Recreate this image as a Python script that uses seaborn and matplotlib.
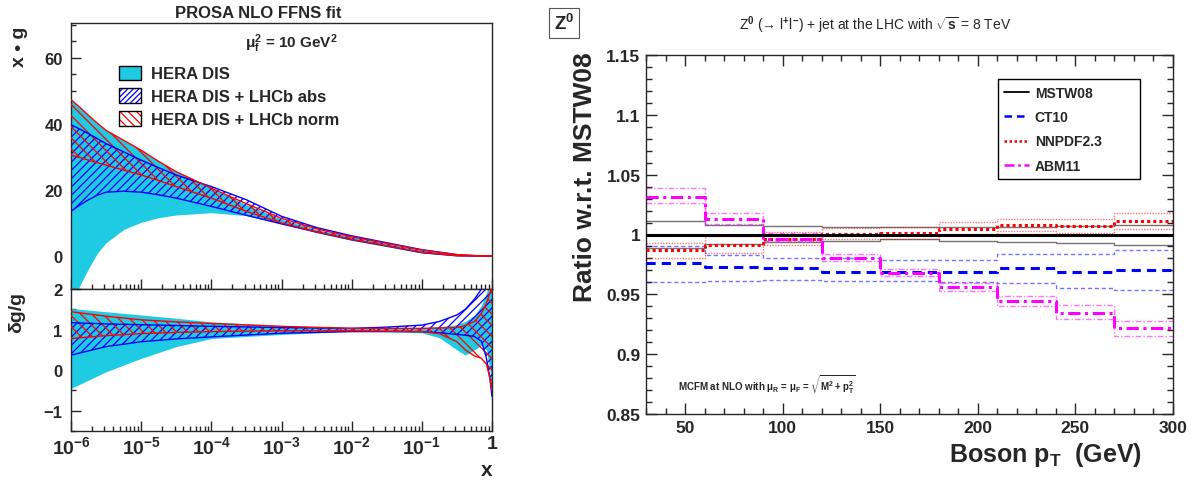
import numpy as np
import matplotlib
matplotlib.use('Agg')
import matplotlib.pyplot as plt
import seaborn as sns
from matplotlib.patches import Patch
from matplotlib.lines import Line2D
from matplotlib.legend_handler import HandlerTuple
from matplotlib.ticker import MultipleLocator, FixedLocator, FuncFormatter, NullFormatter

# ---- left: gluon density x*g and relative uncertainty, mu_f^2 = 10 GeV^2 ----
log_x = [-6, -5.875, -5.75, -5.625, -5.5, -5.25, -5, -4.75, -4.5, -4, -3.5, -3, -2.5, -2, -1.5, -1, -0.5, -0.25, 0]
hera_hi = [47.3, 45, 42.5, 40.2, 38, 35, 32, 28.6, 25.5, 20.5, 15.5, 11.2, 8.0, 5.9, 3.8, 1.8, 0.4, 0.1, 0]
hera_lo = [-16, -9, -3.8, 0.8, 4.0, 8.0, 10.2, 11.6, 12.4, 13.1, 12.2, 9.8, 7.1, 4.7, 2.8, 0.9, 0.05, 0, 0]
abs_hi = [39.7, 38.4, 37, 35.5, 34, 31.5, 29, 26.7, 24.5, 21, 17, 12, 8.6, 6.1, 4.0, 1.9, 0.4, 0.1, 0]
abs_lo = [13.5, 15.4, 17, 18.4, 19.3, 19.6, 19.3, 18.5, 17.5, 15.0, 12.3, 9.7, 7.2, 4.9, 3.0, 1.0, 0.05, 0, 0]
norm_hi = [47.3, 45, 42.5, 40.2, 38, 35, 32, 28.6, 25.5, 20.5, 15.8, 11.4, 8.2, 5.8, 3.8, 1.8, 0.4, 0.1, 0]
norm_lo = [30.5, 29.8, 29, 28.2, 27.5, 26, 24.5, 22.8, 21, 17.5, 13.5, 10, 7.3, 5.0, 3.1, 1.1, 0.1, 0, 0]

log_x_r = [-6, -5.5, -5, -4.5, -4, -3, -2, -1.5, -1, -0.75, -0.5, -0.38, -0.25, -0.15, -0.08, -0.03, 0]
hera_r_hi = [1.52, 1.44, 1.36, 1.28, 1.19, 1.10, 1.04, 1.03, 1.04, 1.07, 1.12, 1.2, 1.35, 1.6, 1.9, 2.2, 2.6]
hera_r_lo = [-0.45, -0.04, 0.29, 0.58, 0.78, 0.88, 0.96, 0.95, 0.92, 0.8, 0.5, 0.37, 0.5, 0.62, 0.5, 0.0, -0.6]
abs_r_hi = [1.17, 1.14, 1.12, 1.10, 1.08, 1.05, 1.03, 1.06, 1.11, 1.2, 1.36, 1.5, 1.75, 2.0, 2.2, 2.4, 2.5]
abs_r_lo = [0.37, 0.58, 0.70, 0.77, 0.82, 0.91, 0.95, 0.95, 0.95, 0.92, 0.88, 0.86, 0.83, 0.71, 0.3, -0.2, -0.65]
norm_r_hi = [1.44, 1.33, 1.24, 1.19, 1.15, 1.08, 1.03, 1.03, 1.03, 1.04, 1.05, 1.1, 1.2, 1.4, 1.65, 1.9, 2.1]
norm_r_lo = [0.78, 0.85, 0.90, 0.93, 0.95, 0.97, 0.97, 0.96, 0.95, 0.9, 0.7, 0.5, 0.35, 0.29, 0.15, -0.2, -0.5]

fit_labels = ['HERA DIS', 'HERA DIS + LHCb abs', 'HERA DIS + LHCb norm']
decade_ticks = [1e-6, 1e-5, 1e-4, 1e-3, 1e-2, 1e-1, 1]
decade_labels = [r'$10^{-6}$', r'$10^{-5}$', r'$10^{-4}$', r'$10^{-3}$', r'$10^{-2}$', r'$10^{-1}$', '1']

# ---- right: Z+jet ratio to MSTW08 in bins of boson pT ----
pt_edges = [30, 60, 90, 120, 150, 180, 210, 240, 270, 300]
mstw_c = [1.0, 1.0, 1.0, 1.0, 1.0, 1.0, 1.0, 1.0, 1.0]
mstw_up = [1.011, 1.008, 1.007, 1.0065, 1.0065, 1.006, 1.006, 1.007, 1.008]
mstw_dn = [0.989, 0.992, 0.9937, 0.9945, 0.996, 0.9945, 0.9937, 0.9925, 0.991]
ct10_c = [0.976, 0.973, 0.972, 0.969, 0.969, 0.969, 0.972, 0.969, 0.970]
ct10_up = [0.990, 0.9825, 0.9805, 0.980, 0.9786, 0.9786, 0.9833, 0.9833, 0.987]
ct10_dn = [0.960, 0.961, 0.962, 0.961, 0.961, 0.960, 0.9596, 0.955, 0.9535]
nnpdf_c = [0.9867, 0.9909, 0.9964, 1.0005, 1.0014, 1.0048, 1.0076, 1.007, 1.0112]
nnpdf_up = [0.9931, 0.9987, 1.0023, 1.0056, 1.0065, 1.0104, 1.0126, 1.0126, 1.018]
nnpdf_dn = [0.980, 0.9847, 0.9909, 0.996, 0.9964, 1.0, 1.003, 1.0015, 1.0048]
abm_c = [1.0315, 1.0126, 0.9964, 0.9805, 0.968, 0.9563, 0.9443, 0.9346, 0.922]
abm_up = [1.0385, 1.0176, 1.0015, 0.9833, 0.9708, 0.9596, 0.949, 0.9407, 0.9276]
abm_dn = [1.0265, 1.0084, 0.9945, 0.9778, 0.9652, 0.9527, 0.94, 0.9295, 0.915]
pdf_names = ['MSTW08', 'CT10', 'NNPDF2.3', 'ABM11']

sns.set_style("ticks")
plt.rcParams['font.family'] = ['Liberation Sans', 'DejaVu Sans']
plt.rcParams['font.weight'] = 'bold'
plt.rcParams['mathtext.fontset'] = 'custom'
plt.rcParams['mathtext.rm'] = 'Liberation Sans'
plt.rcParams['mathtext.it'] = 'Liberation Sans:italic'
plt.rcParams['mathtext.bf'] = 'Liberation Sans:bold'
plt.rcParams['mathtext.default'] = 'bf'
plt.rcParams['hatch.linewidth'] = 0.9
plt.rcParams['axes.linewidth'] = 1.0

CYAN = '#1ecbe2'
BLUE_HATCH = '////'
RED_HATCH = '\\\\\\'
W, H = 1195, 481
fig = plt.figure(figsize=(W / 100, H / 100), dpi=100)


def px_axes(x0, y0, x1, y1):
    return fig.add_axes([x0 / W, 1 - y1 / H, (x1 - x0) / W, (y1 - y0) / H])


ax1 = px_axes(71, 24, 492, 290)
ax2 = px_axes(71, 290, 492, 432)
ax3 = px_axes(646, 56, 1173, 415)


def draw_bands(ax, lx, hi_lo_list):
    x = 10 ** np.array(lx, dtype=float)
    (h0, l0), (h1, l1), (h2, l2) = hi_lo_list
    ax.fill_between(x, l0, h0, color=CYAN, lw=0, zorder=1)
    ax.fill_between(x, l1, h1, facecolor='none', edgecolor='blue', hatch=BLUE_HATCH, lw=0, zorder=2)
    ax.fill_between(x, l2, h2, facecolor='none', edgecolor='red', hatch=RED_HATCH, lw=0, zorder=3)
    for y in (h1, l1):
        sns.lineplot(x=x, y=y, ax=ax, color='blue', lw=1.0, zorder=4)
    for y in (h2, l2):
        sns.lineplot(x=x, y=y, ax=ax, color='red', lw=1.0, zorder=5)


draw_bands(ax1, log_x, [(hera_hi, hera_lo), (abs_hi, abs_lo), (norm_hi, norm_lo)])
draw_bands(ax2, log_x_r, [(hera_r_hi, hera_r_lo), (abs_r_hi, abs_r_lo), (norm_r_hi, norm_r_lo)])

minor_ticks = [m * 10.0 ** e for e in range(-6, 0) for m in range(2, 10)]
for ax in (ax1, ax2):
    ax.set_xscale('log')
    ax.set_xlim(1e-6, 1)
    ax.xaxis.set_major_locator(FixedLocator(decade_ticks))
    ax.xaxis.set_minor_locator(FixedLocator(minor_ticks))
    ax.xaxis.set_minor_formatter(NullFormatter())
    ax.tick_params(which='both', direction='in', top=False, right=False, labelsize=12)
    ax.tick_params(which='major', length=7, width=1)
    ax.tick_params(which='minor', length=3.5, width=1)
    ax.set_xlabel('')
    ax.set_ylabel('')

ax1.set_ylim(-10, 70.5)
ax1.yaxis.set_major_locator(FixedLocator([0, 20, 40, 60]))
ax1.yaxis.set_minor_locator(MultipleLocator(5))
ax1.xaxis.set_major_formatter(NullFormatter())
ax1.tick_params(axis='y', pad=6)

ax2.set_ylim(-1.5, 2)
ax2.yaxis.set_major_locator(FixedLocator([-1, 0, 1, 2]))
ax2.yaxis.set_minor_locator(MultipleLocator(0.5))
ax2.tick_params(axis='y', pad=6)
ax2.tick_params(axis='x', pad=3, labelsize=14)
ax2.set_xticklabels(decade_labels)

leg_handles = [
    Patch(facecolor=CYAN, edgecolor='black', lw=1),
    (Patch(facecolor='white', edgecolor='blue', hatch='//////', lw=0),
     Patch(facecolor='none', edgecolor='black', lw=1)),
    (Patch(facecolor='white', edgecolor='red', hatch='\\\\\\\\', lw=0),
     Patch(facecolor='none', edgecolor='black', lw=1)),
]
ax1.legend(leg_handles, fit_labels, loc='upper left', bbox_to_anchor=(0.098, 0.865), frameon=False,
           prop={'size': 12, 'weight': 'bold'}, handlelength=1.3, handleheight=0.95,
           handletextpad=0.6, labelspacing=0.42, borderaxespad=0,
           handler_map={tuple: HandlerTuple(ndivide=1, pad=0)})
ax1.text(0.523, 0.925, r'$\mu_f^2$ = 10 GeV$^2$', transform=ax1.transAxes, ha='center', va='center',
         fontsize=11, fontweight='bold')

fig.text(258 / W, 1 - 13 / H, 'PROSA NLO FFNS fit', ha='center', va='center', fontsize=12, fontweight='bold')
fig.text(19 / W, 1 - 27 / H, 'x • g', rotation=90, ha='center', va='top', fontsize=14, fontweight='bold')
fig.text(17 / W, 1 - 292 / H, 'δg/g', rotation=90, ha='center', va='top', fontsize=14, fontweight='bold')
fig.text(492 / W, 1 - 471 / H, 'x', ha='right', va='center', fontsize=15, fontweight='bold')


# ---- right panel ----
def step(ax, vals, color, ls, lw, alpha=1.0, z=3):
    sns.lineplot(x=pt_edges, y=list(vals) + [vals[-1]], ax=ax, color=color, linestyle=ls, lw=lw,
                 alpha=alpha, drawstyle='steps-post', estimator=None, zorder=z)


styles = {
    'MSTW08': ('black', '-'),
    'CT10': ('blue', (0, (3, 2))),
    'NNPDF2.3': ('red', (0, (1, 1))),
    'ABM11': ('magenta', (0, (4, 1.5, 1, 1.5))),
}
series = {
    'MSTW08': (mstw_c, mstw_up, mstw_dn),
    'CT10': (ct10_c, ct10_up, ct10_dn),
    'NNPDF2.3': (nnpdf_c, nnpdf_up, nnpdf_dn),
    'ABM11': (abm_c, abm_up, abm_dn),
}
for name in pdf_names:
    col, ls = styles[name]
    c, up, dn = series[name]
    step(ax3, up, col, ls, 1.0, alpha=0.55, z=2)
    step(ax3, dn, col, ls, 1.0, alpha=0.55, z=2)
    step(ax3, c, col, ls, 2.2, z=4 if name == 'MSTW08' else 3)

ax3.set_xlim(30, 300)
ax3.set_ylim(0.85, 1.15)
ax3.xaxis.set_major_locator(MultipleLocator(50))
ax3.xaxis.set_minor_locator(MultipleLocator(10))
ax3.yaxis.set_major_locator(MultipleLocator(0.05))
ax3.yaxis.set_minor_locator(MultipleLocator(0.01))
ax3.yaxis.set_major_formatter(FuncFormatter(lambda v, p: '{:g}'.format(round(v, 3))))
ax3.tick_params(which='both', direction='in', top=True, right=True, labelsize=12.5)
ax3.tick_params(which='major', length=8, width=1)
ax3.tick_params(which='minor', length=4, width=1)
ax3.tick_params(axis='y', pad=4)
ax3.tick_params(axis='x', pad=4)
ax3.set_xlabel('')
ax3.set_ylabel('')

leg3 = [Line2D([], [], color=styles[n][0], linestyle=styles[n][1], lw=1.8 if n != 'MSTW08' else 1.3)
        for n in pdf_names]
lg = ax3.legend(leg3, pdf_names, loc='upper left', bbox_to_anchor=(0.668, 0.665, 0.269, 0.267),
                mode='expand', frameon=True, fancybox=False, framealpha=1, edgecolor='black',
                prop={'size': 10, 'weight': 'bold'}, handlelength=1.8, handletextpad=0.4,
                labelspacing=0.75, borderaxespad=0, borderpad=0.45)
lg.get_frame().set_linewidth(1.0)

ax3.text(0.06, 0.085, r'MCFM at NLO with $\mu_R$ = $\mu_F$ = $\sqrt{M^2+p_T^2}$', transform=ax3.transAxes,
         ha='left', va='center', fontsize=7, fontweight='bold')

fig.text(875 / W, 1 - 25 / H,
         r'Z$^{\mathrm{0}}$ (→ l$^{\mathrm{+}}$l$^{\mathrm{-}}$) + jet at the LHC with $\mathrm{\sqrt{s}}$ = 8 TeV',
         ha='center', va='center', fontsize=10, fontweight='normal')
fig.text(564 / W, 1 - 24 / H, r'Z$^0$', ha='center', va='center', fontsize=13.5, fontweight='bold',
         bbox=dict(boxstyle='square,pad=0.25', facecolor='white', edgecolor='#555555', lw=0.8))
fig.text(585 / W, 1 - 52 / H, 'Ratio w.r.t. MSTW08', rotation=90, ha='center', va='top',
         fontsize=19, fontweight='bold')
fig.text(1142 / W, 1 - 455 / H, r'Boson p$_T$  (GeV)', ha='right', va='center', fontsize=18,
         fontweight='bold')

fig.savefig('out.png', dpi=100)
